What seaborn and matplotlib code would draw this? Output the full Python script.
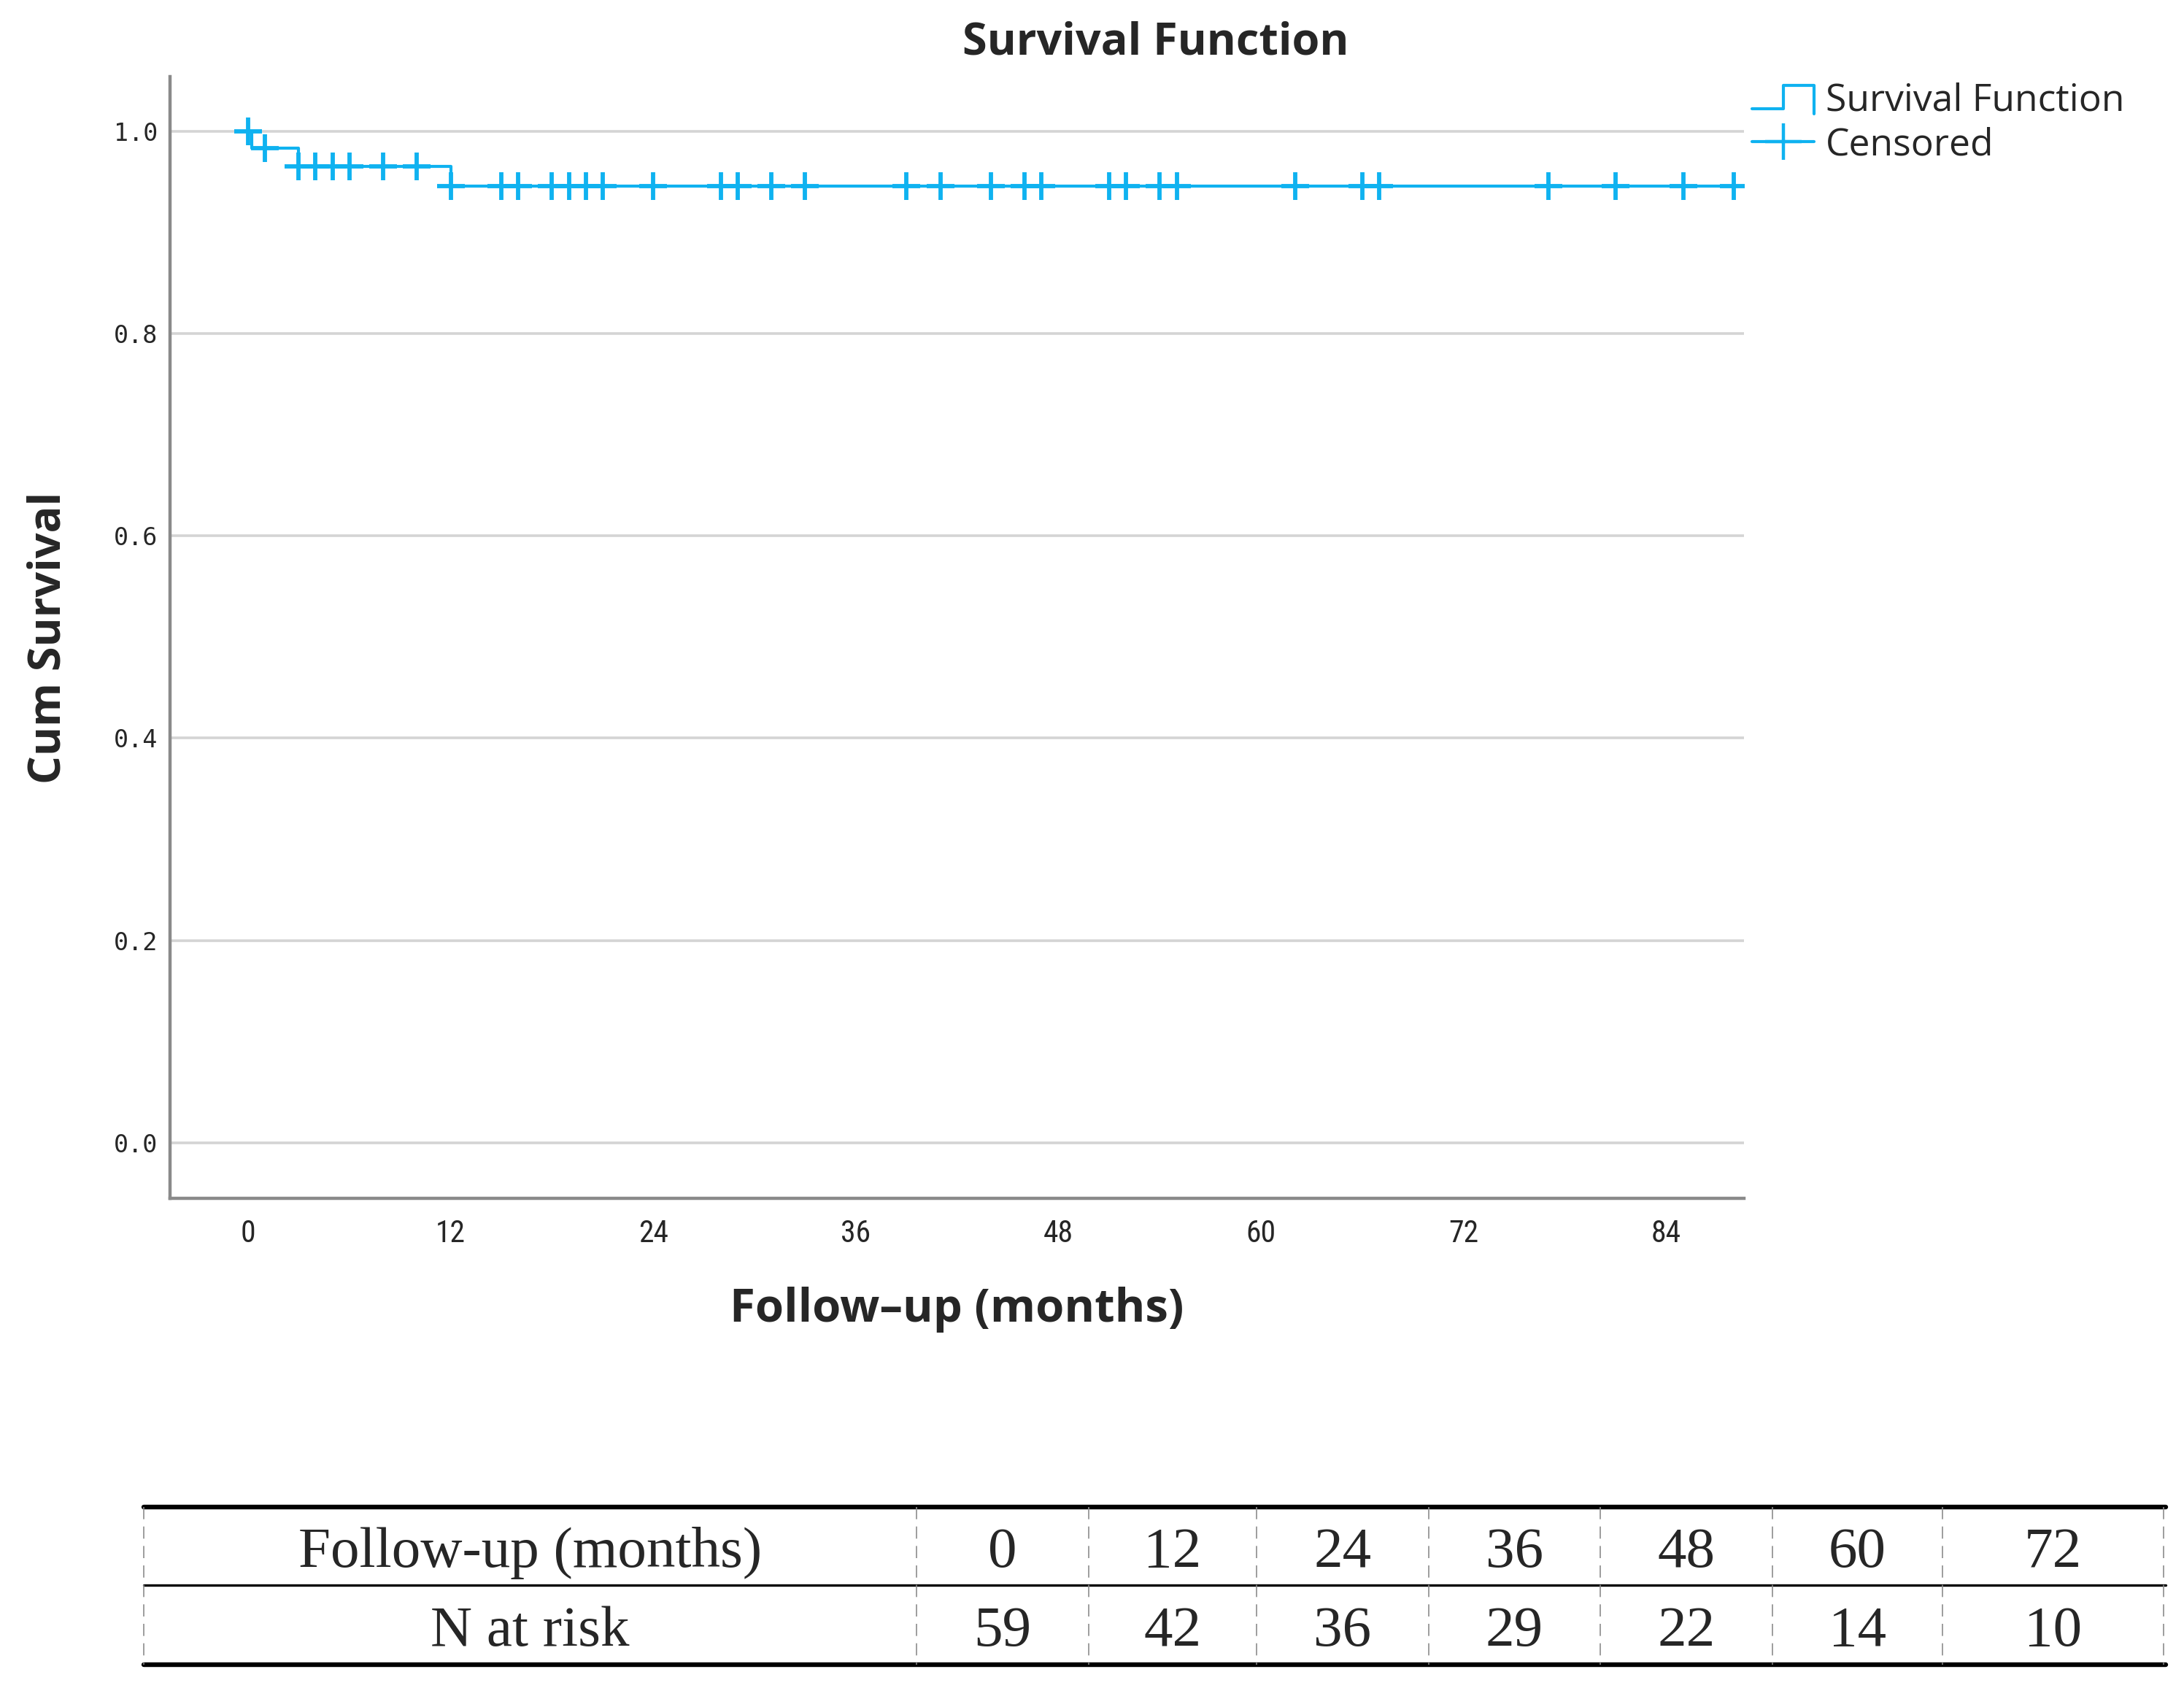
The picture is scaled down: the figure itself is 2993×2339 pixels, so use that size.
import numpy as np
import pandas as pd
import matplotlib
matplotlib.use("Agg")
import matplotlib.pyplot as plt
import matplotlib.font_manager as fm
from matplotlib.legend_handler import HandlerBase
from matplotlib.lines import Line2D
import seaborn as sns

# ---------------- data ----------------
event_times = [0.2, 3, 12]                 # months at which the curve drops
surv_levels = [1.0, 0.983, 0.965, 0.946]   # survival before first drop, then after each drop
follow_end = 88.6
censored_times = [0, 1, 3, 4, 5, 6, 8, 10, 12, 15, 16, 18, 19, 20, 21, 24,
                  28, 29, 31, 33, 39, 41, 44, 46, 47, 51, 52, 54, 55,
                  62, 66, 67, 77, 81, 85, 88]
x_ticks = [0, 12, 24, 36, 48, 60, 72, 84]
y_ticks = [0.0, 0.2, 0.4, 0.6, 0.8, 1.0]
table_months = [0, 12, 24, 36, 48, 60, 72]
table_at_risk = [59, 42, 36, 29, 22, 14, 10]
table_row_labels = ["Follow-up (months)", "N at risk"]

# ---------------- style ----------------
sns.set_style("white")
avail = {f.name for f in fm.fontManager.ttflist}
def pick(*names):
    for n in names:
        if n in avail:
            return n
    return "DejaVu Sans"
SANS_C = pick("Roboto Condensed", "Liberation Sans Narrow", "DejaVu Sans Condensed", "DejaVu Sans")
SANS = pick("Open Sans", "Noto Sans", "DejaVu Sans")
MONO = pick("DejaVu Sans Mono", "Liberation Mono")
SERIF = pick("Liberation Serif", "DejaVu Serif")
plt.rcParams["font.family"] = [SANS, "DejaVu Sans"]

BLUE = "#0fb2f0"
W, H = 2993, 2339
DPI = 200
fig = plt.figure(figsize=(W / DPI, H / DPI), dpi=DPI)

def fx(px):
    return px / W
def fy(py):
    return 1 - py / H

# main axes
L, R, T, B = 233, 2390, 105, 1642
ax = fig.add_axes([fx(L), fy(B), fx(R - L), (B - T) / H])

# step curve
st_x = [0.0] + list(event_times) + [follow_end]
st_y = [surv_levels[0]] + list(surv_levels[1:]) + [surv_levels[-1]]
curve = pd.DataFrame({"t": st_x, "s": st_y})
sns.lineplot(data=curve, x="t", y="s", ax=ax, color=BLUE, lw=1.5,
             drawstyle="steps-post", estimator=None, sort=False, zorder=3)

# censored marks at the curve level
idx = np.searchsorted(np.array(event_times), np.array(censored_times), side="right")
cens = pd.DataFrame({"t": censored_times, "s": np.array(surv_levels)[idx]})
sns.scatterplot(data=cens, x="t", y="s", ax=ax, marker="+", s=180,
                color=BLUE, linewidth=2.1, zorder=4)

ax.set_xlim(-4.62, 88.6)
ax.set_ylim(-0.055, 1.054)
ax.set_xticks(x_ticks)
ax.set_xticklabels([str(v) for v in x_ticks], fontsize=15, family=[SANS_C, "DejaVu Sans"])
ax.set_yticks(y_ticks)
ax.set_yticklabels([f"{v:.1f}" for v in y_ticks], fontsize=12, family=MONO)
ax.tick_params(axis="both", length=0)
ax.tick_params(axis="x", pad=10)
ax.tick_params(axis="y", pad=6)
ax.grid(axis="y", color="#d4d4d4", lw=1.3)
ax.grid(axis="x", visible=False)
ax.set_axisbelow(True)
for side in ["top", "right"]:
    ax.spines[side].set_visible(False)
for side in ["left", "bottom"]:
    ax.spines[side].set_color("#8a8a8a")
    ax.spines[side].set_linewidth(1.6)

ax.set_xlabel("Follow\u2013up (months)", fontsize=22.8, fontweight="bold", va="center")
ax.xaxis.set_label_coords(0.5, (B - 1794) / (B - T))
ax.set_ylabel("Cum Survival", fontsize=22, fontweight="bold", va="center")
ax.yaxis.set_label_coords((67 - L) / (R - L), 0.5)

fig.text(fx(1584), fy(59), "Survival Function", fontsize=22, fontweight="bold",
         ha="center", va="center")

# legend
class HandlerStep(HandlerBase):
    def create_artists(self, legend, orig_handle, xdescent, ydescent, width, height, fontsize, trans):
        x0, x1 = -xdescent, -xdescent + width
        xm = x0 + width * 0.5
        lo = -ydescent + height * 0.05
        hi = -ydescent + height * 0.95
        ln = Line2D([x0, xm, xm, x1, x1], [lo, lo, hi, hi, lo - height * 0.2],
                    color=BLUE, lw=1.5, transform=trans)
        return [ln]

h_step = Line2D([], [], color=BLUE, lw=1.5)
h_cens = Line2D([], [], color=BLUE, lw=1.5, marker="+", markersize=18, markeredgewidth=1.6)
leg = ax.legend([h_step, h_cens], ["Survival Function", "Censored"],
                handler_map={h_step: HandlerStep()},
                loc="upper left", bbox_to_anchor=(fx(2401), fy(112)),
                bbox_transform=fig.transFigure, frameon=False, fontsize=18.6,
                handlelength=1.65, handletextpad=0.3, labelspacing=0.2,
                borderpad=0, borderaxespad=0, numpoints=1)

# at-risk table
TL, TR, TT, TB, TM = 197, 2968, 2065, 2281, 2172
tax = fig.add_axes([fx(TL), fy(TB), fx(TR - TL), (TB - TT) / H])
tax.set_xlim(TL, TR)
tax.set_ylim(TB, TT)
tax.axis("off")
edges = [197, 1256, 1492, 1722, 1958, 2193, 2429, 2662, 2965]
tax.axhline(TT, color="black", lw=2.3, clip_on=False)
tax.axhline(TM, color="black", lw=1.2, clip_on=False)
tax.axhline(TB, color="black", lw=2.3, clip_on=False)
for e in edges:
    tax.plot([e, e], [TT, TB], color="#8c8c8c", lw=0.6, linestyle=(0, (10, 6)), clip_on=False)
row_y = [(TT + TM) / 2 + 10, (TM + TB) / 2 + 10]
FS_T = 28.5
tax.text((edges[0] + edges[1]) / 2, row_y[0], table_row_labels[0], family=SERIF,
         fontsize=FS_T, ha="center", va="center")
tax.text((edges[0] + edges[1]) / 2, row_y[1], table_row_labels[1], family=SERIF,
         fontsize=FS_T, ha="center", va="center")
for i, (m, n) in enumerate(zip(table_months, table_at_risk)):
    cx = (edges[i + 1] + edges[i + 2]) / 2
    tax.text(cx, row_y[0], str(m), family=SERIF, fontsize=FS_T, ha="center", va="center")
    tax.text(cx, row_y[1], str(n), family=SERIF, fontsize=FS_T, ha="center", va="center")

fig.savefig("out.png", dpi=DPI, facecolor="white")
